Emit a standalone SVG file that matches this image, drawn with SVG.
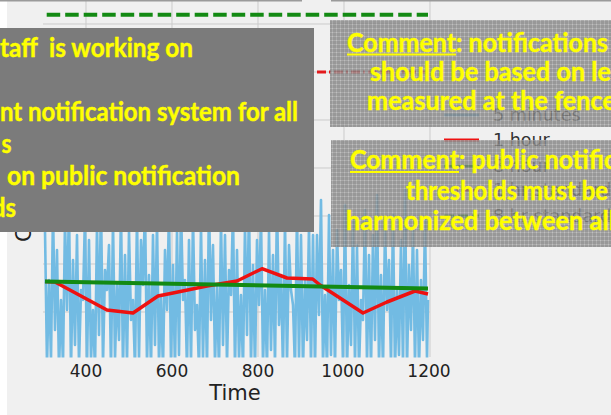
<svg xmlns="http://www.w3.org/2000/svg" width="611" height="415" viewBox="0 0 611 415">
  <style>
    .grid { stroke: #cbcbcb; stroke-width: 1; fill: none; }
    .tick { font-family: "DejaVu Sans", sans-serif; font-size: 17px; fill: #222; text-anchor: middle; }
    .axlabel { font-family: "DejaVu Sans", sans-serif; font-size: 21px; fill: #222; }
    .leg { font-family: "DejaVu Sans", sans-serif; font-size: 17.5px; fill: #333; }
    .note { font-family: Lato, "Open Sans", sans-serif; font-weight: bold; fill: #ffff00; stroke: #ffff00; stroke-width: 0.45; }
    .big { font-size: 26.7px; }
    .mid { font-size: 26px; }
    .uline { stroke: #ffff00; stroke-width: 1.8; }
  </style>
  <defs>
    <clipPath id="plotClip">
      <rect x="43" y="0" width="387" height="357.5"/>
    </clipPath>
    <!-- fine screen texture used by the comment boxes -->
    <pattern id="screen" width="4" height="4" patternUnits="userSpaceOnUse">
      <rect width="4" height="4" fill="#828282"/>
      <rect width="4" height="1" fill="#999999"/>
      <rect width="1" height="4" fill="#999999"/>
      <rect width="1" height="1" fill="#b4b4b4"/>
    </pattern>
  </defs>

  <!-- page and figure background -->
  <rect x="0" y="0" width="611" height="415" fill="#ffffff"/>
  <rect x="7" y="0" width="604" height="415" fill="#f0f0f0"/>

  <!-- grid -->
  <g id="grid">
    <path class="grid" d="M86 0V357M172 0V357M258 0V357M344 0V357M430 0V357"/>
    <path class="grid" d="M43 24H430M43 72H430M43 120H430M43 168H430M43 216H430M43 264H430M43 312H430"/>
  </g>

  <!-- 5 minute series -->
  <g id="series-5min" clip-path="url(#plotClip)">
    <polyline fill="none" stroke="#72bbe3" stroke-width="2.6" stroke-linejoin="round" points="45,230 47,365 49,280 51,360 53,210 55,330 57,250 59,370 61,300 63,365 65,220 67,310 69,205 71,370 73,260 75,345 77,235 79,365 81,290 83,300 85,215 87,370 89,240 91,360 93,310 95,370 97,225 99,335 101,200 103,365 105,270 107,290 109,245 111,370 113,220 115,360 117,285 119,340 121,210 123,370 125,255 127,365 129,230 131,320 133,300 135,370 137,215 139,360 141,240 143,285 145,205 147,365 149,275 151,370 153,235 155,345 157,220 159,365 161,295 163,370 165,250 167,310 169,210 171,365 173,265 175,370 177,230 179,355 181,205 183,300 185,280 187,370 189,240 191,365 193,215 195,330 197,305 199,370 201,225 203,360 205,260 207,370 209,200 211,320 213,245 215,365 217,285 219,370 221,220 223,345 225,235 227,365 229,270 231,295 233,210 235,370 237,250 239,360 241,295 243,370 245,225 247,335 249,205 251,365 253,265 255,370 257,240 259,305 261,215 263,365 265,290 267,370 269,230 271,350 273,255 275,365 277,200 279,325 281,275 283,370 285,220 287,365 289,245 291,290 293,305 295,370 297,210 299,360 301,235 303,370 305,280 307,340 309,225 311,365 313,235 315,370 317,235 319,315 321,200 323,365 325,295 327,370 329,215 331,355 333,250 335,370 337,230 339,300 341,270 343,365 345,205 347,370 349,285 351,345 353,220 355,365 357,245 359,370 361,300 363,320 365,210 367,365 369,255 371,370 373,235 375,340 377,195 379,365 381,275 383,370 385,225 387,310 389,260 391,365 393,215 395,370 397,290 399,355 401,240 403,365 405,190 407,370 409,265 411,330 413,230 415,365 417,250 419,370 421,280 423,340 425,220 427,360 428,300"/>
  </g>

  <!-- 1 hour average -->
  <g id="series-1hr">
    <polyline fill="none" stroke="#ee1111" stroke-width="3.5" stroke-linejoin="round" points="45,281.5 55,282 107,310 133,313 158,296 173,293 207,286 237,281 262,268.7 287,278 312.7,279 320,285 363,313 387,302 415,291 428,294"/>
  </g>

  <!-- 8 hour average -->
  <g id="series-8hr">
    <line x1="45" y1="281.5" x2="428" y2="288.5" stroke="#138a13" stroke-width="4"/>
  </g>

  <!-- standards -->
  <g id="standards">
    <line x1="46.7" y1="14.7" x2="428" y2="14.7" stroke="#138a13" stroke-width="4" stroke-dasharray="13.5 5"/>
    <line x1="45" y1="72" x2="428" y2="72" stroke="#e31a1c" stroke-width="3" stroke-dasharray="9 3 2 3"/>
  </g>

  <!-- legend -->
  <g id="legend">
    <line x1="444" y1="115" x2="479" y2="115" stroke="#72bbe3" stroke-width="3"/>
    <line x1="444" y1="140" x2="479" y2="140" stroke="#ee1111" stroke-width="3"/>
    <line x1="444" y1="166" x2="479" y2="166" stroke="#138a13" stroke-width="3"/>
    <line x1="444" y1="190" x2="479" y2="190" stroke="#e31a1c" stroke-width="3" stroke-dasharray="9 3 2 3"/>
    <line x1="444" y1="216" x2="479" y2="216" stroke="#138a13" stroke-width="3" stroke-dasharray="10 4"/>
    <text class="leg" x="493" y="121">5 minutes</text>
    <text class="leg" x="493" y="146">1 hour</text>
    <text class="leg" x="493" y="172">8 hour</text>
    <text class="leg" x="493" y="196">1 hr standard</text>
    <text class="leg" x="493" y="222">8 hr standard</text>
  </g>

  <!-- axes text -->
  <g id="axes">
    <text class="tick" x="86" y="377">400</text>
    <text class="tick" x="172" y="377">600</text>
    <text class="tick" x="258" y="377">800</text>
    <text class="tick" x="343" y="377">1000</text>
    <text class="tick" x="429" y="377">1200</text>
    <text class="axlabel" x="235" y="400" text-anchor="middle">Time</text>
    <text class="axlabel" x="31" y="242" transform="rotate(-90 31 242)">C</text>
  </g>

  <!-- slivers of panels above the frame -->
  <rect x="0" y="0" width="302" height="1.5" fill="#9a9a9a"/>
  <rect x="331" y="0" width="280" height="1.5" fill="#9a9a9a"/>

  <!-- staff note panel -->
  <g id="staff-note">
    <rect x="0" y="28" width="314" height="204" fill="#7b7b7b"/>
    <text class="note mid" x="0" y="57" textLength="193" lengthAdjust="spacingAndGlyphs" xml:space="preserve">taff  is working on</text>
    <text class="note mid" x="0" y="121" textLength="298" lengthAdjust="spacingAndGlyphs">nt notification system for all</text>
    <text class="note mid" x="1.5" y="153" textLength="10" lengthAdjust="spacingAndGlyphs">s</text>
    <text class="note mid" x="7" y="185" textLength="233" lengthAdjust="spacingAndGlyphs">on public notification</text>
    <text class="note mid" x="-8" y="217" textLength="24" lengthAdjust="spacingAndGlyphs">ds</text>
  </g>

  <!-- comment on fence-line levels -->
  <g id="comment-fence">
    <rect x="330" y="20" width="281" height="107" fill="url(#screen)" opacity="0.8"/>
    <text class="note big" x="347" y="51.5" textLength="261" lengthAdjust="spacingAndGlyphs">Comment: notifications</text>
    <line class="uline" x1="347" y1="54.5" x2="456" y2="54.5"/>
    <text class="note big" x="370" y="81" textLength="241" lengthAdjust="spacingAndGlyphs">should be based on le</text>
    <text class="note big" x="367" y="110" textLength="249" lengthAdjust="spacingAndGlyphs">measured at the fence</text>
  </g>

  <!-- comment on notification thresholds -->
  <g id="comment-thresholds">
    <rect x="331" y="140" width="280" height="107" fill="url(#screen)" opacity="0.8"/>
    <text class="note big" x="350" y="169" textLength="266" lengthAdjust="spacingAndGlyphs">Comment: public notific</text>
    <line class="uline" x1="350" y1="172" x2="459" y2="172"/>
    <text class="note big" x="406" y="199.5" textLength="202" lengthAdjust="spacingAndGlyphs">thresholds must be</text>
    <text class="note big" x="346" y="230" textLength="269" lengthAdjust="spacingAndGlyphs">harmonized between all</text>
  </g>
</svg>
